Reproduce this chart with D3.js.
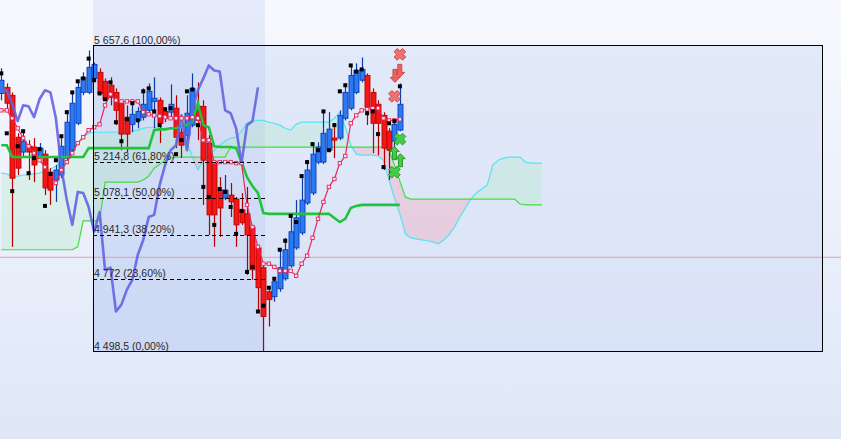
<!DOCTYPE html>
<html><head><meta charset="utf-8">
<script src="https://cdn.jsdelivr.net/npm/d3@7"></script>
<style>html,body{margin:0;padding:0;overflow:hidden;background:#eef2fb}</style>
</head><body><svg id="c" width="841" height="439"></svg>
<script>
// ---- data (Heikin-Ashi candles, index 0..73) ----
const openP  = [5476,5499,5469,5310,5254,5276,5273,5235,5246,5178,5148,5167,5231,5261,5363,5480,5480,5533,5556,5522,5507,5480,5439,5386,5359,5374,5386,5412,5446,5450,5408,5405,5420,5329,5318,5356,5427,5427,5288,5216,5110,5080,5091,5076,5035,5020,4970,4891,4816,4725,4706,4736,4774,4823,4891,4948,5061,5099,5216,5216,5261,5307,5307,5382,5420,5480,5526,5544,5480,5435,5393,5333,5295,5337];
const highP  = [5571,5514,5480,5325,5337,5299,5307,5288,5261,5193,5205,5318,5412,5480,5522,5556,5639,5593,5571,5533,5537,5495,5450,5431,5442,5424,5495,5514,5537,5461,5424,5510,5469,5344,5469,5552,5518,5450,5318,5223,5159,5167,5137,5084,5099,5122,4978,4899,4823,4733,4778,4884,4929,5016,5072,5159,5223,5288,5291,5412,5405,5363,5412,5514,5582,5590,5612,5552,5495,5450,5405,5344,5374,5514];
const lowP   = [5450,5412,4895,5167,5239,5148,5140,5223,5091,5054,5065,5155,5223,5254,5356,5469,5473,5526,5469,5450,5431,5356,5261,5254,5329,5344,5374,5401,5344,5288,5367,5390,5269,5231,5299,5348,5299,5054,4940,4895,4933,5072,5008,4895,4978,4789,4770,4646,4498.5,4593,4687,4725,4767,4816,4884,4940,5054,5091,5208,5208,5254,5231,5299,5374,5412,5473,5518,5356,5250,5242,5186,5148,5261,5333];
const closeP = [5526,5439,5155,5193,5295,5254,5205,5269,5118,5110,5186,5276,5367,5439,5499,5537,5575,5586,5476,5454,5461,5412,5322,5322,5397,5408,5435,5484,5458,5363,5382,5435,5310,5280,5401,5495,5374,5223,5016,5016,5042,5110,5065,4978,4986,4940,4808,4740,4631,4695,4763,4816,4884,4952,5005,5072,5186,5246,5273,5325,5341,5299,5393,5480,5544,5563,5567,5424,5363,5363,5269,5261,5359,5435];
// real closes (black squares)
const closeMarks = [5552,5325,5106,5276,5333,5174,5231,5265,5050,5171,5223,5314,5405,5480,5522,5533,5608,5526,5476,5454,5518,5367,5295,5378,5439,5374,5484,5495,5408,5356,5416,5420,5246,5299,5484,5491,5356,5122,5084,4978,5114,5103,5046,4944,5031,4800,4819,4650,4672,4740,4774,4884,4918,5012,4989,5163,5216,5284,5261,5408,5261,5356,5484,5507,5582,5559,5567,5401,5408,5322,5197,5363,5371,5503];
// Ichimoku
const tenkan = [5412,5412,5382,5344,5307,5276,5250,5223,5197,5171,5137,5186,5216,5250,5288,5310,5337,5348,5359,5431,5473,5450,5446,5446,5446,5446,5405,5397,5393,5390,5386,5382,5382,5382,5382,5386,5382,5299,5299,5216,5216,5216,5216,5212,5212,5054,4970,4895,4831,4831,4819,4804,4804,4804,4785,4831,4861,4929,5001,5065,5122,5152,5212,5239,5363,5393,5412,5416,5420,5420,5382,5374,5374,5378];
const kijun = [5280,5280,5235,5235,5235,5235,5235,5235,5235,5235,5235,5235,5235,5235,5235,5235,5269,5269,5269,5269,5269,5269,5269,5269,5269,5269,5269,5269,5337,5340,5340,5344,5344,5352,5356,5371,5439,5356,5348,5276,5273,5273,5273,5269,5216,5159,5125,5099,5023,5020,5020,5020,5020,5020,5020,5020,5020,5020,5020,5020,5020,5004,4989,5001,5042,5050,5054,5054,5054,5054,5054,5054,5054,5054];
const senkouA = [5174,5171,5163,5163,5167,5167,5171,5174,5182,5189,5201,5216,5235,5261,5288,5310,5325,5329,5329,5329,5329,5329,5329,5329,5333,5337,5344,5348,5348,5344,5344,5340,5340,5337,5291,5235,5186,5223,5242,5261,5280,5295,5307,5310,5333,5363,5371,5374,5374,5367,5363,5356,5344,5337,5359,5367,5367,5367,5367,5367,5367,5382,5405,5348,5280,5246,5242,5242,5242,5239,5223,5148,5080,5020,4944,4929,4925,4921,4918,4914,4906,4921,4940,4970,5008,5042,5076,5099,5114,5129,5205,5223,5231,5235,5235,5235,5216,5212,5212,5212];
const senkouB = [4884,4884,4884,4884,4884,4884,4884,4884,4884,4884,4884,4884,4884,4884,4895,4993,4993,4993,4993,5140,5140,5140,5140,5140,5140,5140,5148,5163,5193,5208,5223,5231,5235,5235,5235,5235,5235,5235,5235,5235,5235,5235,5273,5273,5273,5273,5273,5273,5273,5273,5273,5273,5273,5273,5273,5273,5273,5273,5273,5273,5273,5273,5273,5273,5273,5273,5273,5273,5273,5273,5273,5261,5205,5144,5084,5076,5076,5076,5076,5076,5076,5076,5076,5076,5076,5076,5076,5076,5076,5076,5076,5076,5076,5076,5076,5057,5054,5054,5054,5054];
const chikou = [5484,5488,5435,5371,5431,5427,5386,5454,5488,5480,5382,5193,5072,4978,5103,5099,5046,4952,5027,4808,4816,4650,4676,4733,4770,4865,4921,5008,5016,5129,5205,5261,5280,5393,5261,5412,5488,5533,5582,5563,5559,5412,5401,5344,5212,5356,5371,5499];
// Fibonacci retracement tool
const fibLevels = [5657.6, 5214.8, 5078.1, 4941.3, 4772, 4498.5];
const fibLabels = ["5 657,6 (100,00%)","5 214,8 (61,80%)","5 078,1 (50,00%)","4 941,3 (38,20%)","4 772 (23,60%)","4 498,5 (0,00%)"];
const fibStartIdx = 16.8, fibBandEndIdx = 48.3, fibEndIdx = 150.3;
const priceLine = 4857.2;
// signals
const sigIdx   = [73, 72.5, 72, 73, 72, 73.1, 72];
const sigPrice = [5624, 5552, 5465, 5303, 5250, 5223, 5178];
const sigKind  = ["xSell","arrowSell2","xSell","xBuy","arrowBuy","arrowBuy","xBuy"];

// ---- drawing ----
const W = 841, H = 439;
const svg = d3.select("#c");
const x = d3.scaleLinear().domain([0, 73]).range([1.3, 399.9]);
const y = d3.scaleLinear().domain([4498.5, 5657.6]).range([351.5, 45.5]);

const defs = svg.append("defs");
const bg = defs.append("linearGradient").attr("id","bg").attr("x1",0).attr("y1",0).attr("x2",0).attr("y2",1);
bg.append("stop").attr("offset","0%").attr("stop-color","#f7f9fe");
bg.append("stop").attr("offset","100%").attr("stop-color","#dfe7f7");
svg.append("rect").attr("width",W).attr("height",H).attr("fill","url(#bg)");

const bx0 = x(fibStartIdx), bx1 = x(fibEndIdx), bandX1 = x(fibBandEndIdx);
const yTop = y(fibLevels[0]), yBot = y(fibLevels[fibLevels.length-1]);
svg.append("rect").attr("x",bx0).attr("y",yTop).attr("width",bx1-bx0).attr("height",yBot-yTop)
  .attr("fill","rgba(205,218,245,0.45)");
svg.append("rect").attr("x",bx0).attr("y",0).attr("width",bandX1-bx0).attr("height",yBot)
  .attr("fill","rgba(160,182,238,0.2)");

// cloud
const idxC = d3.range(senkouA.length);
defs.append("clipPath").attr("id","above").append("path")
  .attr("d", d3.area().x(i=>x(i)).y0(0).y1(i=>y(senkouB[i]))(idxC));
defs.append("clipPath").attr("id","below").append("path")
  .attr("d", d3.area().x(i=>x(i)).y0(H).y1(i=>y(senkouB[i]))(idxC));
const cloud = d3.area().x(i=>x(i)).y0(i=>y(senkouB[i])).y1(i=>y(senkouA[i]));
svg.append("path").attr("d",cloud(idxC)).attr("fill","rgba(170,235,185,0.28)").attr("clip-path","url(#above)");
svg.append("path").attr("d",cloud(idxC)).attr("fill","rgba(245,165,185,0.38)").attr("clip-path","url(#below)");
const lineIdx = (arr) => d3.line().x(i=>x(i)).y(i=>y(arr[i]))(d3.range(arr.length));
svg.append("path").attr("d",lineIdx(senkouA)).attr("fill","none").attr("stroke","#55e2f2").attr("stroke-width",1.2);
svg.append("path").attr("d",lineIdx(senkouB)).attr("fill","none").attr("stroke","#3ee03e").attr("stroke-width",1.2);

// price line
svg.append("line").attr("x1",0).attr("x2",W).attr("y1",y(priceLine)+0.5).attr("y2",y(priceLine)+0.5)
  .attr("stroke","#f09a9a").attr("stroke-width",1);

// candles
const bw = 5;
const cg = svg.append("g");
d3.range(openP.length).forEach(i=>{
  const up = closeP[i] >= openP[i];
  const wick = up ? "#0c3aa8" : "#b00000";
  const cx = Math.round(x(i)) + 0.5;
  cg.append("line").attr("x1",cx).attr("x2",cx).attr("y1",y(highP[i])).attr("y2",y(lowP[i]))
    .attr("stroke",wick).attr("stroke-width",1.2);
  const t = y(Math.max(openP[i],closeP[i])), b = y(Math.min(openP[i],closeP[i]));
  cg.append("rect").attr("x",cx-bw/2).attr("y",t).attr("width",bw).attr("height",Math.max(1.5,b-t))
    .attr("fill", up ? "#2a7af4" : "#f21818").attr("stroke", up ? "#0e3cb4" : "#c20000").attr("stroke-width",0.9);
});

// kijun, chikou, tenkan
svg.append("path").attr("d",lineIdx(kijun)).attr("fill","none").attr("stroke","#22c23e").attr("stroke-width",2.6);
svg.append("path").attr("d",lineIdx(chikou)).attr("fill","none").attr("stroke","#6464e2").attr("stroke-width",2.6)
  .attr("stroke-opacity",0.9).attr("stroke-linejoin","round");
svg.append("path").attr("d",lineIdx(tenkan)).attr("fill","none").attr("stroke","#e3285a").attr("stroke-width",1.2);
svg.append("g").selectAll("rect").data(d3.range(tenkan.length)).join("rect")
  .attr("x",i=>x(i)-1.7).attr("y",i=>y(tenkan[i])-1.7).attr("width",3.4).attr("height",3.4)
  .attr("fill","#fbe4ec").attr("stroke","#e3285a").attr("stroke-width",0.9);

// fib dashed lines
fibLevels.slice(1, fibLevels.length-1).forEach(v=>{
  svg.append("line").attr("x1",bx0).attr("x2",bandX1).attr("y1",Math.round(y(v))+0.5).attr("y2",Math.round(y(v))+0.5)
    .attr("stroke","#000").attr("stroke-width",1).attr("stroke-dasharray","4,3");
});

// close marks
svg.append("g").selectAll("rect").data(d3.range(closeMarks.length)).join("rect")
  .attr("x",i=>x(i)-2).attr("y",i=>y(closeMarks[i])-2).attr("width",4).attr("height",4).attr("fill","#000");

// fib labels
fibLevels.forEach((v,k)=>{
  svg.append("text").attr("x",bx0+1).attr("y",y(v)-2).text(fibLabels[k])
    .attr("font-family","'Liberation Sans', Arial, sans-serif").attr("font-size","10.5px").attr("fill","#2a2a2a");
});
svg.append("rect").attr("x",Math.round(bx0)+0.5).attr("y",yTop).attr("width",Math.round(bx1-bx0)).attr("height",yBot-yTop)
  .attr("fill","none").attr("stroke","#000").attr("stroke-width",1);

// signals
const a=6, h=2.3;
const plus = [[-h,-a],[h,-a],[h,-h],[a,-h],[a,h],[h,h],[h,a],[-h,a],[-h,h],[-a,h],[-a,-h],[-h,-h]];
const upArrow = [[0,-6.5],[4.8,-1.5],[2,-1.5],[2,6.5],[-2,6.5],[-2,-1.5],[-4.8,-1.5]];
const poly = pts => "M" + pts.map(p=>p.join(",")).join("L") + "Z";
const sg = svg.append("g");
sigKind.forEach((k,j)=>{
  const px = x(sigIdx[j]), py = y(sigPrice[j]);
  if (k === "xSell" || k === "xBuy") {
    sg.append("path").attr("d",poly(plus)).attr("transform",`translate(${px},${py}) rotate(45)`)
      .attr("fill", k==="xSell" ? "#f07070" : "#48cc48").attr("stroke", k==="xSell" ? "#d04848" : "#229a22").attr("stroke-width",0.9);
  } else if (k === "arrowBuy") {
    sg.append("path").attr("d",poly(upArrow)).attr("transform",`translate(${px},${py})`)
      .attr("fill","#48cc48").attr("stroke","#1f8f1f").attr("stroke-width",0.9);
  } else {
    [[2.6,-2.5],[-2.2,2.5]].forEach(o=>{
      sg.append("path").attr("d",poly(upArrow)).attr("transform",`translate(${px+o[0]},${py+o[1]}) rotate(180)`)
        .attr("fill","#f06262").attr("stroke","#c83c3c").attr("stroke-width",0.9);
    });
  }
});
</script>
</body></html>
